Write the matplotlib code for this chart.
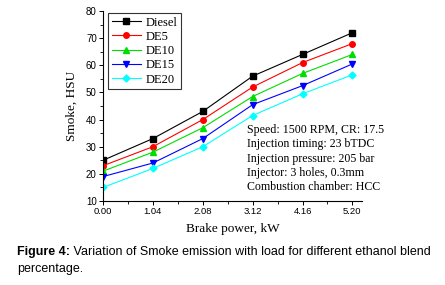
import matplotlib
matplotlib.use('Agg')
import matplotlib.pyplot as plt
from matplotlib.ticker import MultipleLocator

power = [0.00, 1.04, 2.08, 3.12, 4.16, 5.20]
diesel = [25, 33, 43, 56, 64, 72]
de5 = [23, 30, 40, 52, 61, 68]
de10 = [21, 28, 37, 48.5, 57, 64]
de15 = [19, 24, 33, 45.5, 52.5, 60.5]
de20 = [15, 22, 30, 41.5, 49.5, 56.5]
tick_labels = ['0.00', '1.04', '2.08', '3.12', '4.16', '5.20']

notes = ["Speed: 1500 RPM, CR: 17.5",
         "Injection timing: 23 bTDC",
         "Injection pressure: 205 bar",
         "Injector: 3 holes, 0.3mm",
         "Combustion chamber: HCC"]

fig = plt.figure(figsize=(4.45, 2.85), dpi=100)
ax = fig.add_axes([0.2315, 0.2947, 0.582, 0.6667])

serif = 'Liberation Serif'
sans = 'Liberation Sans'

ax.plot(power, diesel, '-s', color='black', lw=0.8, ms=4, label='Diesel')
ax.plot(power, de5, '-o', color='red', lw=0.8, ms=4, label='DE5')
ax.plot(power, de10, '-^', color='#00dd00', lw=0.8, ms=4, label='DE10')
ax.plot(power, de15, '-v', color='blue', lw=0.8, ms=4, label='DE15')
ax.plot(power, de20, '-D', color='cyan', lw=0.8, ms=3.5, label='DE20')

ax.set_xlim(0, 5.4)
ax.set_ylim(10, 80)
ax.set_xticks(power)
ax.set_xticklabels(tick_labels, fontfamily=sans, fontsize=6.8)
ax.xaxis.set_minor_locator(MultipleLocator(0.52))
ax.yaxis.set_major_locator(MultipleLocator(10))
ax.yaxis.set_minor_locator(MultipleLocator(5))
for lab in ax.get_yticklabels():
    lab.set_fontfamily(sans)
    lab.set_fontsize(7)
ax.tick_params(which='major', direction='out', length=3, width=0.7, pad=1.5)
ax.tick_params(which='minor', direction='out', length=2, width=0.6)
ax.spines['top'].set_visible(False)
ax.spines['right'].set_visible(False)
ax.spines['left'].set_linewidth(0.8)
ax.spines['bottom'].set_linewidth(0.8)

ax.set_ylabel('Smoke, HSU', fontfamily=serif, fontsize=9.5, labelpad=6)
ax.set_xlabel('Brake power, kW', fontfamily=serif, fontsize=9.5, labelpad=5)

leg = ax.legend(loc='upper left', bbox_to_anchor=(0.005, 1.01), prop={'family': serif, 'size': 9},
                frameon=True, fancybox=False, edgecolor='black', handlelength=2.3,
                handletextpad=0.4, borderpad=0.3, labelspacing=0.18, borderaxespad=0.3)
leg.get_frame().set_linewidth(0.8)

ax.text(0.556, 0.405, "\n".join(notes), transform=ax.transAxes, fontfamily=serif,
        fontsize=8.6, va='top', ha='left', linespacing=1.25)

# caption below the chart
t1 = fig.text(0.038, 0.105, "Figure 4:", fontfamily=sans, fontsize=9, fontweight='bold', va='baseline')
ax.annotate(" Variation of Smoke emission with load for different ethanol blend",
            xy=(1, 0), xycoords=t1, va='bottom', ha='left', fontfamily=sans, fontsize=9,
            annotation_clip=False)
fig.text(0.038, 0.044, "percentage.", fontfamily=sans, fontsize=9, va='baseline')

fig.savefig('out.png', dpi=100)
